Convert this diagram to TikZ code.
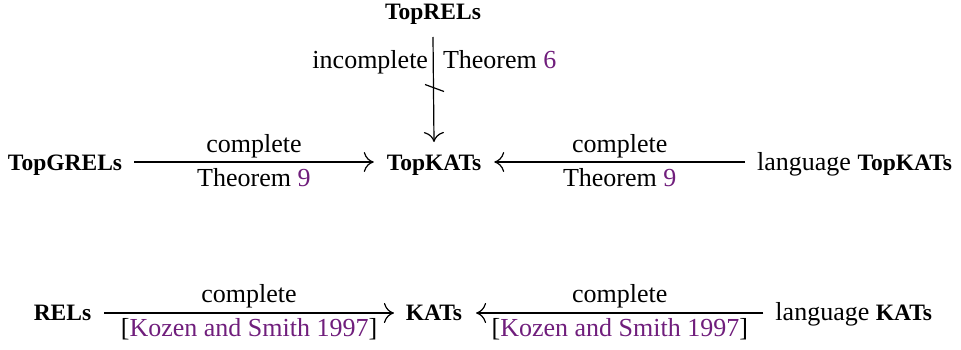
\documentclass[tikz,border=0pt]{standalone}
\usepackage{fontspec}
\setmainfont{Liberation Serif}
\usetikzlibrary{arrows.meta,calc}
\definecolor{acmpurple}{RGB}{112,30,124}
\newcommand\kb[1]{{\fontsize{23.5}{23.5}\selectfont\bfseries #1}}
\newcommand\cref[1]{\textcolor{acmpurple}{#1}}
\begin{document}
\begin{tikzpicture}[x=1pt,y=1pt,
  every node/.style={inner sep=0pt,outer sep=0pt,font=\fontsize{26}{26}\selectfont},
  arr/.style={line width=1.2pt,-{Computer Modern Rightarrow[length=10pt,width=20pt,line width=1.2pt]}},
  lab/.style={midway,anchor=base}]
\useasboundingbox (0,0) rectangle (961,349);
% nodes
\node[anchor=base] (toprels) at (433,329) {\kb{TopRELs}};
\node[anchor=base] (topkats) at (434,179) {\kb{TopKATs}};
\node[anchor=base west] (topgrels) at (8,179) {\kb{TopGRELs}};
\node[anchor=base east] (langtop) at (952,179) {language \kb{TopKATs}};
\node[anchor=base] (rels) at (62.5,29) {\kb{RELs}};
\node[anchor=base] (kats) at (434,29) {\kb{KATs}};
\node[anchor=base east] (langkats) at (932,29) {language \kb{KATs}};
% vertical arrow
\draw[arr] ([yshift=-17]toprels.base) -- ([yshift=28]topkats.base);
\node[anchor=base east] (incomp) at (428,281) {incomplete};
\node[anchor=base west] (thm6) at (443,281) {Theorem \cref{6}};
\coordinate (tick) at (434,261);
\draw[line width=1.2pt] ([shift={(-9,3.5)}]tick) -- ([shift={(10,-3.5)}]tick);
% middle row
\draw[arr] ([shift={(12,8)}]topgrels.base east) -- ([shift={(-13,8)}]topkats.base west)
  node[lab,yshift=10] (c1) {complete}
  node[lab,yshift=-24] (t1) {Theorem \cref{9}};
\draw[arr] ([shift={(-12,8)}]langtop.base west) -- ([shift={(13,8)}]topkats.base east)
  node[lab,yshift=10] (c2) {complete}
  node[lab,yshift=-24] (t2) {Theorem \cref{9}};
% bottom row
\draw[arr] ([shift={(13,7)}]rels.base east) -- ([shift={(-12,7)}]kats.base west)
  node[lab,yshift=11] (c3) {complete}
  node[lab,yshift=-23] (k1) {[\cref{Kozen and Smith 1997}]};
\draw[arr] ([shift={(-12,7)}]langkats.base west) -- ([shift={(14,7)}]kats.base east)
  node[lab,yshift=11] (c4) {complete}
  node[lab,yshift=-23] (k2) {[\cref{Kozen and Smith 1997}]};
\end{tikzpicture}
\end{document}
